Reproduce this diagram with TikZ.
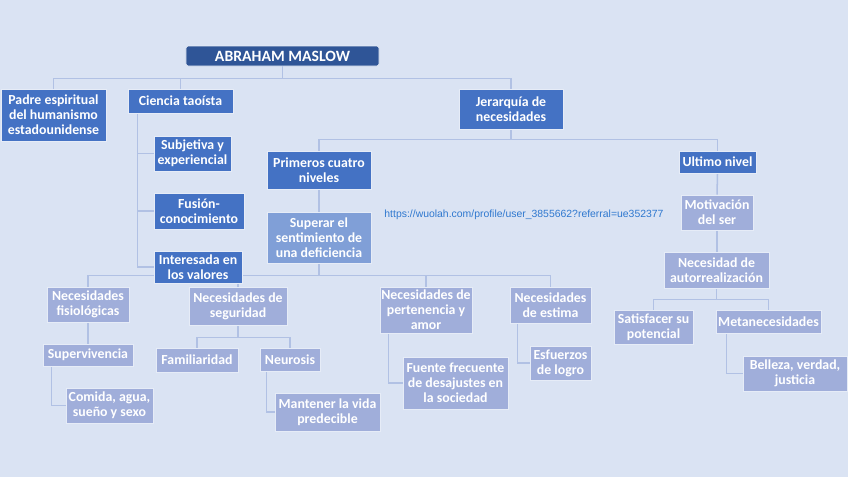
\documentclass[tikz,border=0pt]{standalone}
\usepackage{fontspec}
\setmainfont{Carlito}
\newfontfamily\urlfont{Liberation Sans}
\usetikzlibrary{positioning}
\definecolor{pagebg}{HTML}{DAE3F3}
\definecolor{darkblue}{HTML}{2F5597}
\definecolor{midblue}{HTML}{4472C4}
\definecolor{softblue}{HTML}{809FD7}
\definecolor{paleblue}{HTML}{A0AEDA}
\definecolor{linkblue}{HTML}{B1C1E4}
\definecolor{boxline}{HTML}{E6ECF7}
\definecolor{urlblue}{HTML}{2F78CF}
\pgfdeclarelayer{back}
\pgfdeclarelayer{links}
\pgfsetlayers{back,links,main}

\begin{document}
\begin{tikzpicture}[x=0.03cm, y=-0.03cm]
  \tikzstyle{box}=[draw=boxline, line width=0.5pt, text=white, align=center, inner sep=1pt, font=\bfseries\fontsize{11.8}{12.8}\selectfont]
  \tikzstyle{headbox}=[box, fill=darkblue, rounded corners=2pt, font=\bfseries\fontsize{13.4}{15}\selectfont]
  \tikzstyle{keybox}=[box, fill=midblue]
  \tikzstyle{midbox}=[box, fill=softblue]
  \tikzstyle{leafbox}=[box, fill=paleblue]
  \tikzstyle{link}=[draw=linkblue, line width=1.3pt]

  \begin{pgfonlayer}{back}
    \fill[pagebg] (0,0) rectangle (848,477);
  \end{pgfonlayer}
  \useasboundingbox (0,0) rectangle (848,477);

  % top level
  \node[headbox, minimum width=5.79cm, minimum height=0.6cm] (maslow) at (282.5,56) {ABRAHAM MASLOW};
  \node[keybox, minimum width=3.15cm, minimum height=1.56cm] (padre) at (53.5,115) {Padre espiritual\\del humanismo\\estadounidense};
  \node[keybox, minimum width=3.15cm, minimum height=0.72cm] (ciencia) at (180.5,101) {Ciencia tao\'ista};
  \node[keybox, minimum width=3.12cm, minimum height=1.2cm] (jerarquia) at (511,109) {Jerarqu\'ia de\\necesidades};

  % ciencia taoista
  \node[keybox, minimum width=2.31cm, minimum height=1.05cm] (subjetiva) at (192.5,153.5) {Subjetiva y\\experiencial};
  \node[keybox, minimum width=2.7cm, minimum height=1.08cm] (fusion) at (199,211) {Fusi\'on-\\conocimiento};
  \node[keybox, minimum width=2.64cm, minimum height=0.96cm] (interesada) at (198,267) {Interesada en\\los valores};

  % jerarquia
  \node[keybox, minimum width=3.12cm, minimum height=1.14cm] (primeros) at (319,170) {Primeros cuatro\\niveles};
  \node[keybox, minimum width=2.31cm, minimum height=0.66cm] (ultimo) at (717.5,162) {Ultimo nivel};
  \node[midbox, minimum width=3.12cm, minimum height=1.53cm] (superar) at (319,237.5) {Superar el\\sentimiento de\\una deficiencia};

  % four levels
  \node[leafbox, minimum width=2.46cm, minimum height=1.05cm] (fisio) at (88,304.5) {Necesidades\\fisiol\'ogicas};
  \node[leafbox, minimum width=2.94cm, minimum height=1.14cm] (seguridad) at (238,306) {Necesidades de\\seguridad};
  \node[leafbox, minimum width=2.76cm, minimum height=1.38cm] (pertenencia) at (426,310) {Necesidades de\\pertenencia y\\amor};
  \node[leafbox, minimum width=2.43cm, minimum height=1.08cm] (estima) at (550.5,305) {Necesidades\\de estima};

  \node[leafbox, minimum width=2.7cm, minimum height=0.66cm] (superviv) at (88,355) {Supervivencia};
  \node[leafbox, minimum width=2.61cm, minimum height=1.05cm] (comida) at (109.5,405.5) {Comida, agua,\\sue\~no y sexo};
  \node[leafbox, minimum width=2.46cm, minimum height=0.72cm] (familiar) at (197,360) {Familiaridad};
  \node[leafbox, minimum width=1.8cm, minimum height=0.69cm] (neurosis) at (290,359.5) {Neurosis};
  \node[leafbox, minimum width=3.15cm, minimum height=1.14cm] (mantener) at (327.5,412) {Mantener la vida\\predecible};
  \node[leafbox, minimum width=3.15cm, minimum height=1.56cm] (fuente) at (455.5,383) {Fuente frecuente\\de desajustes en\\la sociedad};
  \node[leafbox, minimum width=1.83cm, minimum height=1.02cm] (esfuerzos) at (560.5,363) {Esfuerzos\\de logro};

  % last level
  \node[leafbox, minimum width=2.16cm, minimum height=1.05cm] (motivacion) at (717,212.5) {Motivaci\'on\\del ser};
  \node[leafbox, minimum width=3.15cm, minimum height=1.08cm] (autorreal) at (716.5,270) {Necesidad de\\autorrealizaci\'on};
  \node[leafbox, minimum width=2.37cm, minimum height=1.02cm] (satisfacer) at (653.5,327) {Satisfacer su\\potencial};
  \node[leafbox, minimum width=3.15cm, minimum height=0.69cm] (meta) at (768.5,321.5) {Metanecesidades};
  \node[leafbox, minimum width=3.12cm, minimum height=1.05cm] (belleza) at (795,373.5) {Belleza, verdad,\\justicia};

  \node[text=urlblue, font=\urlfont\fontsize{8.9}{10}\selectfont, inner sep=0pt] (url) at (524,215) {https://wuolah.com/profile/user\_3855662?referral=ue352377};

  \begin{pgfonlayer}{links}
    \foreach \kid in {padre, ciencia, jerarquia}
      \draw[link] (maslow.south) -- ++(0,12) -| (\kid.north);
    \foreach \kid in {subjetiva, fusion, interesada}
      \draw[link] ([xshift=0.3cm]ciencia.south west) |- (\kid.west);
    \foreach \kid in {primeros, ultimo}
      \draw[link] (jerarquia.south) -- ++(0,10) -| (\kid.north);
    \draw[link] (primeros.south) -- (superar.north);
    \foreach \kid in {fisio, seguridad, pertenencia, estima}
      \draw[link] (superar.south) -- ++(0,12) -| (\kid.north);
    \draw[link] (fisio.south) -- (superviv.north);
    \draw[link] ([xshift=0.27cm]superviv.south west) |- (comida.west);
    \foreach \kid in {familiar, neurosis}
      \draw[link] (seguridad.south) -- ++(0,12) -| (\kid.north);
    \draw[link] ([xshift=0.21cm]neurosis.south west) |- (mantener.west);
    \draw[link] ([xshift=0.27cm]pertenencia.south west) |- (fuente.west);
    \draw[link] ([xshift=0.24cm]estima.south west) |- (esfuerzos.west);
    \draw[link] (ultimo.south) -- (motivacion.north);
    \draw[link] (motivacion.south) -- (motivacion.south |- autorreal.north);
    \foreach \kid in {satisfacer, meta}
      \draw[link] (autorreal.south) -- ++(0,11) -| (\kid.north);
    \draw[link] ([xshift=0.33cm]meta.south west) |- (belleza.west);
  \end{pgfonlayer}
\end{tikzpicture}
\end{document}
